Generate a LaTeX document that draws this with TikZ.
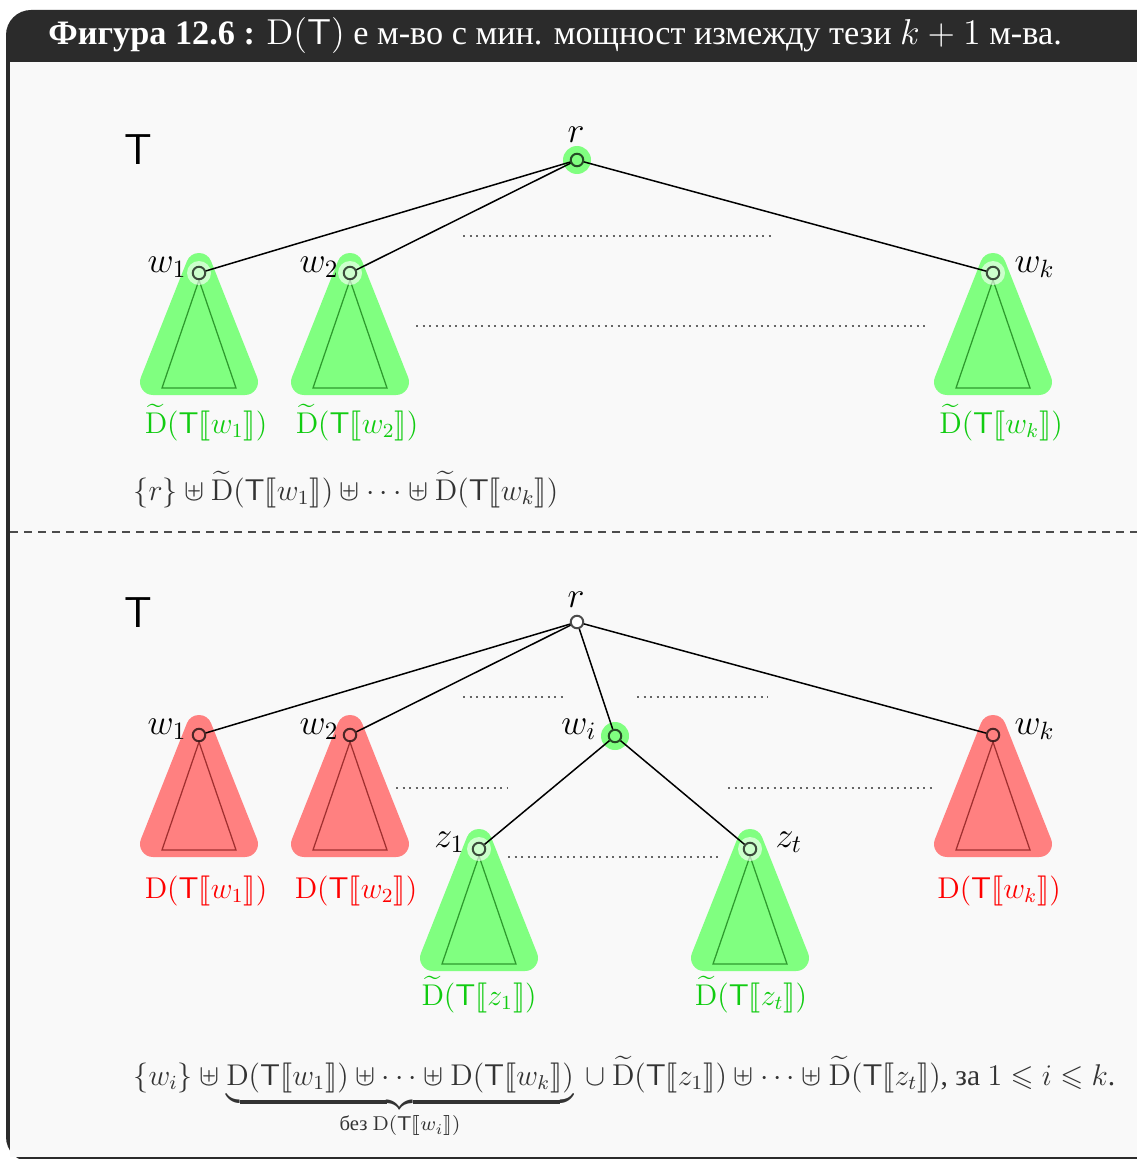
\documentclass[tikz,border=0pt]{standalone}
\usepackage{amsmath,amssymb}
\usepackage{stmaryrd}
\usepackage[no-math]{fontspec}
\setmainfont{Liberation Serif}
\usetikzlibrary{backgrounds}
\definecolor{headdark}{HTML}{2B2B2B}
\definecolor{panel}{HTML}{F9F9F9}
\definecolor{textgray}{HTML}{333333}
\definecolor{glabel}{HTML}{11CC11}
\definecolor{gtri}{HTML}{2E9A2E}
\definecolor{rtri}{HTML}{A03030}
\newcommand{\sub}[1]{\mathsf{T}\llbracket #1\rrbracket}
\newcommand{\Dset}{\mathrm{D}}
\newcommand{\Dt}{\widetilde{\mathrm{D}}}

\begin{document}
\begin{tikzpicture}[x=0.4pt,y=-0.4pt,
    vert/.style={circle,draw=black,draw opacity=.7,line width=.8pt,inner sep=0pt,minimum size=5pt},
    edge/.style={line width=.6pt},
    gap/.style={black!60,line width=.5pt,dash pattern=on .8pt off 1.8pt},
    sep/.style={black!70,line width=.5pt,dash pattern=on 3.2pt off 2.4pt},
    greenblob/.style={fill=green!50,draw=green!50,line width=10.4pt,line join=round},
    redblob/.style={fill=red!50,draw=red!50,line width=10.4pt,line join=round},
    greentri/.style={draw=gtri,line width=.5pt},
    redtri/.style={draw=rtri,line width=.5pt},
    vlabel/.style={inner sep=0pt,font=\fontsize{14}{16}\selectfont},
    glbl/.style={text=glabel,inner sep=0pt,font=\fontsize{11.8}{14}\selectfont},
    rlbl/.style={text=red,inner sep=0pt,font=\fontsize{11.8}{14}\selectfont},
    formula/.style={text=textgray,anchor=base west,inner sep=0pt,font=\fontsize{11.8}{14}\selectfont},
    biglbl/.style={font=\sffamily\LARGE,inner sep=0pt}]
  \useasboundingbox (0,0) rectangle (1137,1159);
  \clip (0,0) rectangle (1137,1159);

  % title
  \node[anchor=base west,text=white,font=\fontsize{13.7}{16}\selectfont,inner sep=0pt] (title) at (48,45)
    {\textbf{Фигура 12.6 :} $\Dset(\mathsf{T})$ е м-во с мин. мощност измежду тези $k+1$ м-ва.};

  % upper tree
  \node[biglbl,anchor=base] (T1) at (138,165) {T};
  \node[vert] (r) at (577,160) {};
  \node[vert] (w1) at (199,273) {};
  \node[vert] (w2) at (350,273) {};
  \node[vert] (wk) at (993,273) {};
  \node[vlabel,anchor=base] (lr) at (576,143) {$r$};
  \node[vlabel,anchor=base east] (lw1) at (187,272) {$w_1$};
  \node[vlabel,anchor=base east] (lw2) at (339,272) {$w_2$};
  \node[vlabel,anchor=base west] (lwk) at (1014,272) {$w_k$};
  \draw[edge] (r) -- (w1);
  \draw[edge] (r) -- (w2);
  \draw[edge] (r) -- (wk);
  \draw[gap] (463,236) -- (775,236);
  \draw[gap] (416,326) -- (928,326);
  \node[glbl,anchor=base] (dw1) at (206,433) {$\Dt(\sub{w_1})$};
  \node[glbl,anchor=base] (dw2) at (357,433) {$\Dt(\sub{w_2})$};
  \node[glbl,anchor=base] (dwk) at (1001,433) {$\Dt(\sub{w_k})$};
  \node[formula] (f1) at (133,500)
    {$\{r\}\uplus\Dt(\sub{w_1})\uplus\cdots\uplus\Dt(\sub{w_k})$};

  % lower tree
  \node[biglbl,anchor=base] (T2) at (138,627) {T};
  \node[vert,fill=white] (rb) at (577,622) {};
  \node[vert] (wb1) at (199,735) {};
  \node[vert] (wb2) at (350,735) {};
  \node[vert] (wbi) at (615,736) {};
  \node[vert] (wbk) at (993,735) {};
  \node[vert] (z1) at (479,849) {};
  \node[vert] (zt) at (750,849) {};
  \node[vlabel,anchor=base] (lrb) at (576,607) {$r$};
  \node[vlabel,anchor=base east] (lwb1) at (187,734) {$w_1$};
  \node[vlabel,anchor=base east] (lwb2) at (339,734) {$w_2$};
  \node[vlabel,anchor=base east] (lwbi) at (597,734) {$w_i$};
  \node[vlabel,anchor=base west] (lwbk) at (1014,734) {$w_k$};
  \node[vlabel,anchor=base east] (lz1) at (465,847) {$z_1$};
  \node[vlabel,anchor=base west] (lzt) at (775,847) {$z_t$};
  \draw[edge] (rb) -- (wb1);
  \draw[edge] (rb) -- (wb2);
  \draw[edge] (rb) -- (wbi);
  \draw[edge] (rb) -- (wbk);
  \draw[edge] (wbi) -- (z1);
  \draw[edge] (wbi) -- (zt);
  \draw[gap] (463,697) -- (567,697);
  \draw[gap] (637,697) -- (768,697);
  \draw[gap] (396,788) -- (508,788);
  \draw[gap] (728,788) -- (932,788);
  \draw[gap] (508,857) -- (722,857);
  \node[rlbl,anchor=base] (db1) at (206,898) {$\Dset(\sub{w_1})$};
  \node[rlbl,anchor=base] (db2) at (356,898) {$\Dset(\sub{w_2})$};
  \node[rlbl,anchor=base] (dbk) at (999,898) {$\Dset(\sub{w_k})$};
  \node[glbl,anchor=base] (dz1) at (479,1005) {$\Dt(\sub{z_1})$};
  \node[glbl,anchor=base] (dzt) at (751,1005) {$\Dt(\sub{z_t})$};
  \node[formula] (f2) at (133,1085)
    {$\{w_i\}\uplus\underbrace{\Dset(\sub{w_1})\uplus\cdots\uplus \Dset(\sub{w_k})}_{\text{без }\Dset(\sub{w_i})}
      {}\cup\Dt(\sub{z_1})\uplus\cdots\uplus\Dt(\sub{z_t})$, за $1\leqslant i\leqslant k$.};

  \draw[sep] (10,532) -- (1137,532);

  \begin{scope}[on background layer]
    % frame
    \fill[white] (0,0) rectangle (1137,1159);
    \fill[headdark,rounded corners=10] (6,10) rectangle (1180,1162);
    \fill[panel] (10,62) rectangle (1180,1157);
    % subtrees
    \foreach \n in {w1,w2,wk,z1,zt}
      \filldraw[greenblob,shift={(\n)}] (0,-7) -- (-46,109) -- (46,109) -- cycle;
    \foreach \n in {wb1,wb2,wbk}
      \filldraw[redblob,shift={(\n)}] (0,-7) -- (-46,109) -- (46,109) -- cycle;
    \foreach \n in {w1,w2,wk,z1,zt}
      \draw[greentri,shift={(\n)}] (0,7) -- (-37,115) -- (37,115) -- cycle;
    \foreach \n in {wb1,wb2,wbk}
      \draw[redtri,shift={(\n)}] (0,7) -- (-37,115) -- (37,115) -- cycle;
    % halos
    \foreach \n in {r,wbi}
      \fill[green!50] (\n) circle (14);
    \foreach \n in {w1,w2,wk,z1,zt}
      \fill[white,fill opacity=.6] (\n) circle (12);
  \end{scope}
\end{tikzpicture}
\end{document}
